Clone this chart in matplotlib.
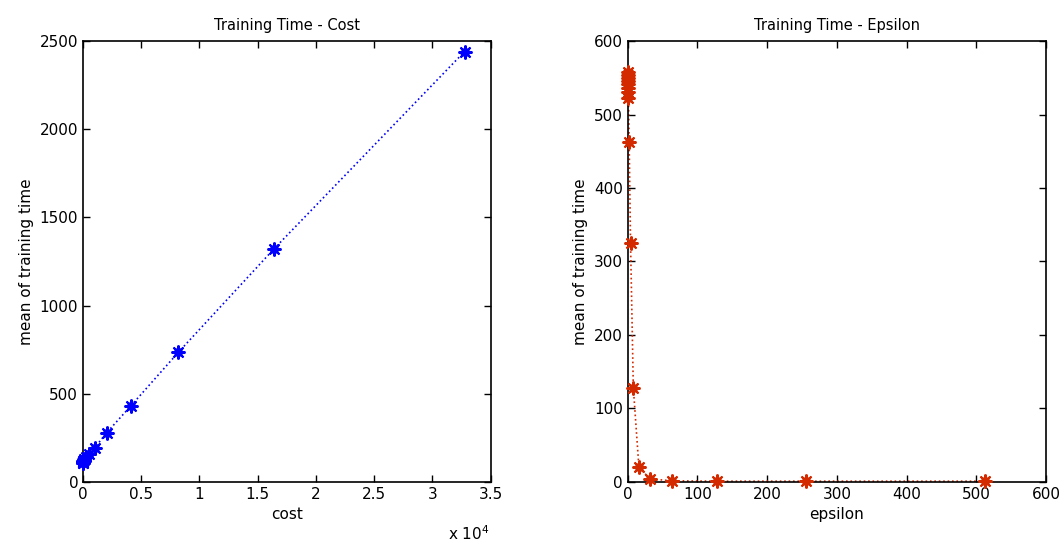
import matplotlib
matplotlib.use("Agg")

import matplotlib.pyplot as plt

# training time vs. cost (cost given in units of 1e4)
cost = [0.0001, 0.0002, 0.0004, 0.0008, 0.0016, 0.0032, 0.0064, 0.0128,
        0.0256, 0.0512, 0.1024, 0.2048, 0.4096, 0.8192, 1.6384, 3.2768]
cost_time = [108, 110, 112, 115, 118, 121, 125, 130,
             140, 160, 195, 280, 430, 735, 1320, 2440]

# training time vs. epsilon
epsilon = [512, 256, 128, 64, 32, 16, 8, 4, 2,
           1, 0.5, 0.25, 0.125, 0.0625, 0.03125, 0.015625, 0.0078125]
eps_time = [1, 1, 1, 1.5, 4, 20, 128, 325, 463,
            522, 530, 536, 541, 546, 550, 554, 558]

BLUE = "#0000ff"
RED = "#d42a00"

plt.rcParams["font.family"] = "DejaVu Sans"
plt.rcParams["font.size"] = 10.5

fig = plt.figure(figsize=(10.64, 5.47), dpi=100)
ax1 = fig.add_axes([0.078, 0.119, 0.383, 0.806])
ax2 = fig.add_axes([0.590, 0.119, 0.393, 0.806])


def draw_series(ax, x, y, color):
    ax.plot(x, y, linestyle=":", color=color, linewidth=1.2, zorder=2)
    # filled core plus an eight-spoke asterisk on top
    ax.plot(x, y, linestyle="none", marker="o", markersize=5.5,
            color=color, zorder=3)
    ax.plot(x, y, linestyle="none", marker=(8, 2, 0), markersize=10,
            markeredgewidth=1.5, color=color, zorder=3)


def style_axes(ax):
    ax.tick_params(direction="in", top=True, right=True, length=5,
                   width=1, labelsize=11)
    for side in ax.spines.values():
        side.set_linewidth(1.2)


draw_series(ax1, cost, cost_time, BLUE)
ax1.set_xlim(0, 3.5)
ax1.set_ylim(0, 2500)
ax1.set_xticks([0, 0.5, 1, 1.5, 2, 2.5, 3, 3.5])
ax1.set_xticklabels(["0", "0.5", "1", "1.5", "2", "2.5", "3", "3.5"])
ax1.set_yticks(range(0, 2501, 500))
ax1.set_title("Training Time - Cost", fontsize=10.5, pad=8)
ax1.set_xlabel("cost", fontsize=11)
ax1.set_ylabel("mean of training time", fontsize=11)
style_axes(ax1)
ax1.text(0.895, -0.118, r"x 10$^4$", transform=ax1.transAxes,
         fontsize=11, ha="left", va="center")

draw_series(ax2, epsilon, eps_time, RED)
ax2.set_xlim(0, 600)
ax2.set_ylim(0, 600)
ax2.set_xticks(range(0, 601, 100))
ax2.set_yticks(range(0, 601, 100))
ax2.set_title("Training Time - Epsilon", fontsize=10.5, pad=8)
ax2.set_xlabel("epsilon", fontsize=11)
ax2.set_ylabel("mean of training time", fontsize=11)
style_axes(ax2)

for ax in (ax1, ax2):
    for line in ax.lines:
        line.set_clip_on(False)

fig.savefig("out.png", dpi=100)
